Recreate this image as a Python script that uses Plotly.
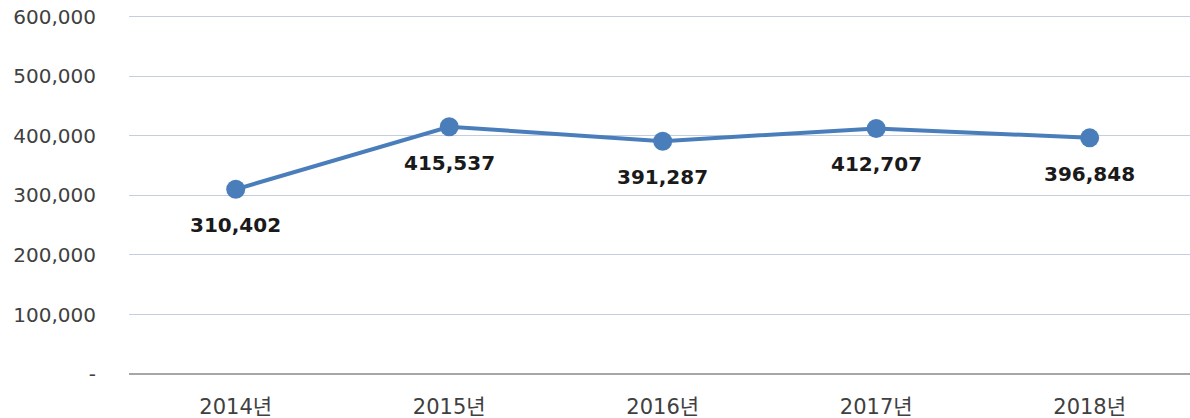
import plotly.graph_objects as go

categories = ["2014년", "2015년", "2016년", "2017년", "2018년"]
values = [310402, 415537, 391287, 412707, 396848]
y_tickvals = [0, 100000, 200000, 300000, 400000, 500000, 600000]
y_ticktext = ["-", "100,000", "200,000", "300,000", "400,000", "500,000", "600,000"]

line_color = "#4A7EBB"

fig = go.Figure()
fig.add_trace(go.Scatter(
    x=list(range(len(categories))), y=values, mode="lines+markers",
    line=dict(color=line_color, width=4),
    marker=dict(color=line_color, size=19),
    hoverinfo="skip", showlegend=False, cliponaxis=False,
))

for i, v in enumerate(values):
    fig.add_annotation(
        x=i, y=v, text=f"{v:,}", showarrow=False, yshift=-36,
        font=dict(family="DejaVu Sans", size=20, color="#1a1a1a", weight="bold"),
    )

fig.update_layout(
    width=1190, height=418,
    margin=dict(l=129, r=0, t=14, b=44),
    paper_bgcolor="white", plot_bgcolor="white",
    xaxis=dict(
        range=[-0.5, 4.47], tickvals=list(range(len(categories))), ticktext=categories,
        showgrid=False, zeroline=False, showline=False, automargin=False,
        tickfont=dict(family="DejaVu Sans, Noto Sans CJK KR", size=21, color="#404040"),
        ticks="", ticklabelstandoff=18,
    ),
    yaxis=dict(
        range=[0, 605000], tickvals=y_tickvals, ticktext=y_ticktext,
        showgrid=True, gridcolor="#C3CEDE", gridwidth=1.3,
        zeroline=True, zerolinecolor="#A6A6A6", zerolinewidth=2,
        showline=False, ticks="", automargin=False,
        tickfont=dict(family="DejaVu Sans", size=20, color="#404040"),
        ticklabelstandoff=32,
    ),
)

fig.write_html(
    "out.html",
    config={"displayModeBar": False},
    post_script="document.body.style.margin='0';document.body.style.padding='0';",
)
